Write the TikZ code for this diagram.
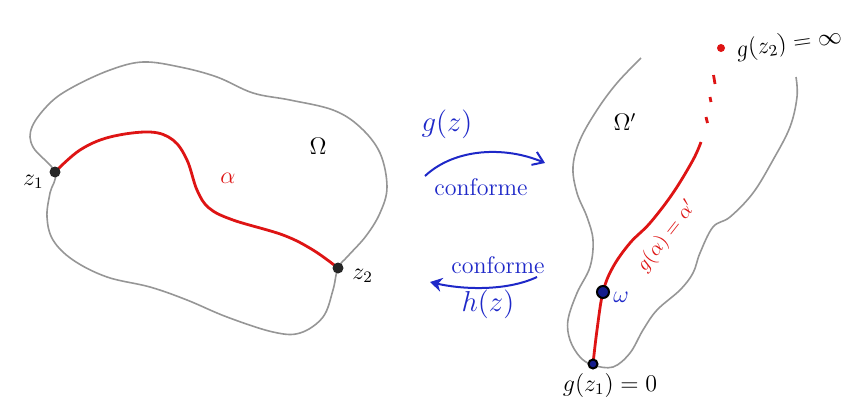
\documentclass[tikz,border=0pt]{standalone}
\usetikzlibrary{arrows.meta}
\definecolor{outl}{RGB}{150,150,150}
\definecolor{pred}{RGB}{222,20,20}
\definecolor{pblue}{RGB}{30,40,200}
\begin{document}
\begin{tikzpicture}[x=0.5pt,y=-0.5pt,
  region/.style={draw=outl,line width=0.8pt},
  curvered/.style={draw=pred,line width=1.4pt},
  bigdot/.style={circle,fill=black!85,inner sep=0pt,minimum size=5.5pt},
  ringdot/.style={circle,draw=black,line width=1pt,fill=pblue!70!black,inner sep=0pt,minimum size=5pt},
  reddot/.style={circle,fill=pred,inner sep=0pt,minimum size=4pt},
  maparrow/.style={draw=pblue,line width=1pt},
  bluetxt/.style={text=pblue,inner sep=1pt},
  lbl/.style={inner sep=1pt}]
\useasboundingbox (0,0) rectangle (858,403);
% ---------- left domain
\draw[region] plot[smooth cycle,tension=0.6] coordinates {
 (55,172) (33,147) (32,127) (50,103) (73,87) (110,70) (143,62) (180,67)
 (217,77) (253,93) (290,100) (333,110) (360,127) (380,153) (387,187)
 (380,213) (366,236) (348,256) (338,268) (333,290) (323,317) (300,333)
 (273,332) (227,317) (187,300) (150,287) (107,277) (73,260) (53,240)
 (47,217) (50,193)};
\coordinate (z1) at (55,172);
\coordinate (z2) at (338,268);
\draw[curvered] plot[smooth,tension=0.6] coordinates {
 (55,172) (80,150) (110,137) (150,132) (173,140) (187,160) (197,190)
 (209,208) (233,220) (283,235) (313,250) (338,268)};
\node[bigdot] (d1) at (z1) {};
\node[bigdot] (d2) at (z2) {};
\node[lbl,anchor=east,font=\large] (lz1) at (46,182) {$z_1$};
\node[lbl,anchor=west,font=\large] (lz2) at (350,276) {$z_2$};
\node[lbl,font=\large] (om) at (318,146) {$\Omega$};
\node[lbl,font=\large,text=pred] (al) at (228,178) {$\alpha$};
% ---------- arrows
\coordinate (ga) at (425,176);
\coordinate (gb) at (545,163);
\draw[maparrow,-{Straight Barb[length=5pt,width=7pt]}] (ga) .. controls (455,148) and (505,146) .. (gb);
\node[bluetxt,font=\Large] (gz) at (447,124) {$g(z)$};
\node[bluetxt,font=\large] (c1) at (481,187) {conforme};
\coordinate (ha) at (537,277);
\coordinate (hb) at (430,282);
\draw[maparrow,-{Stealth[length=6pt,width=7pt]}] (ha) .. controls (505,292) and (460,289) .. (hb);
\node[bluetxt,font=\large] (c2) at (498,265) {conforme};
\node[bluetxt,font=\Large] (hz) at (488,304) {$h(z)$};
% ---------- right domain
\draw[region] plot[smooth,tension=0.6] coordinates {
 (641,58) (617,83) (597,110) (580,140) (573,167) (577,193) (587,217)
 (593,240) (590,267) (577,293) (568,320) (570,340) (580,357) (593,365)
 (613,367) (630,353) (643,330) (657,310) (680,290) (693,273) (700,253)
 (713,227) (730,217) (753,193) (773,160) (790,127) (797,97) (796,77)};
\coordinate (w0) at (593,364);
\coordinate (ww) at (603,292);
\coordinate (winf) at (721,48);
\draw[curvered] plot[smooth,tension=0.6] coordinates {
 (593,364) (597,330) (603,292) (613,267) (630,243) (650,223) (673,193)
 (693,160) (701,142)};
\draw[draw=pred,line width=1.4pt] (706,117) -- (707.5,123);
\draw[draw=pred,line width=1.4pt] (710,97) -- (711,102);
\draw[draw=pred,line width=1.4pt] (713.5,75) -- (715,84);
\node[reddot] (dinf) at (winf) {};
\node[ringdot,minimum size=4.5pt] (d0) at (w0) {};
\node[ringdot,minimum size=6pt] (dw) at (ww) {};
\node[lbl,font=\large] (omp) at (625,122) {$\Omega'$};
\node[bluetxt,font=\large] (lw) at (621,297) {$\omega$};
\node[lbl,font=\large] (lg1) at (610,385) {$g(z_1)=0$};
\node[lbl,font=\large,anchor=west,rotate=8] (lg2) at (734,52) {$g(z_2)=\infty$};
\node[lbl,text=pred,rotate=52] (lga) at (667,236) {$g(\alpha)=\alpha'$};
\end{tikzpicture}
\end{document}
